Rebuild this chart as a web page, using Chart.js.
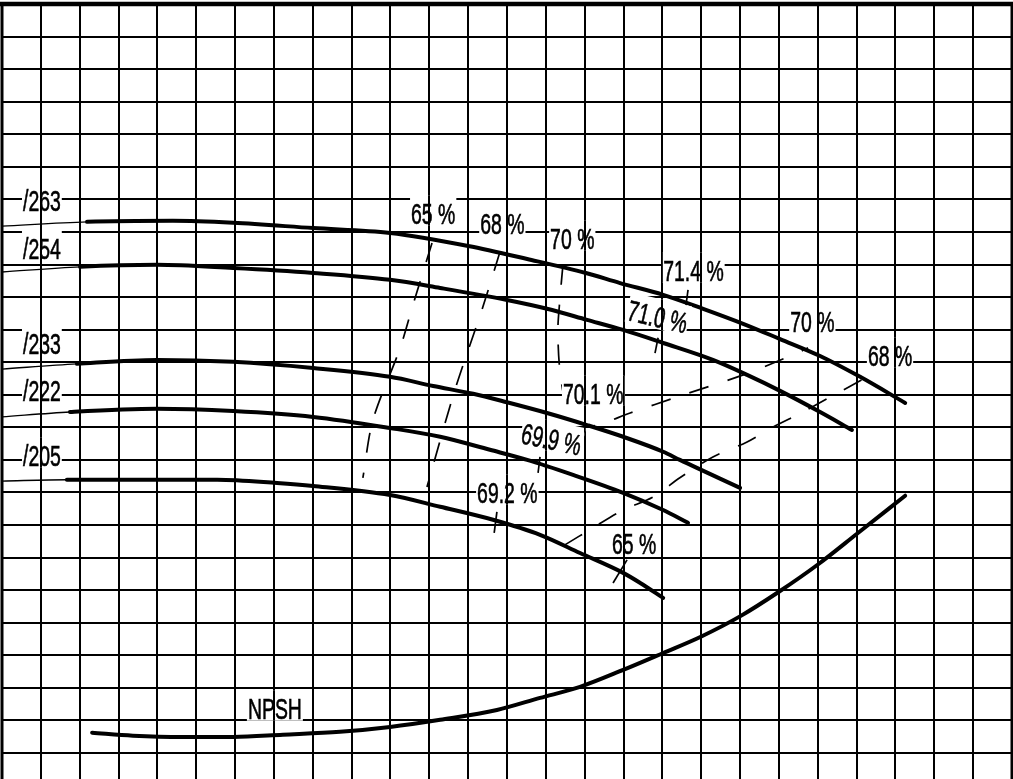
<!DOCTYPE html>
<html>
<head>
<meta charset="utf-8">
<script src="https://cdn.jsdelivr.net/npm/chart.js@4"></script>
<style>
html, body { margin: 0; padding: 0; background: #fff; }
canvas { display: block; }
</style>
</head>
<body>
<canvas id="mycanvas" width="1013" height="779"></canvas>
<script>
// all values in grid squares (x = flow, y = head)

// impeller curves [x, y]
var imp263 = [[0,16.18],[2.19,16.31],[4.40,16.34],[5.95,16.28],[8.01,16.12],[9.99,15.97],[12.00,15.57],[13.52,15.17],[15.03,14.74],[15.91,14.43],[17.02,14.07],[18.05,13.64],[19.08,13.18],[20.03,12.71],[21.06,12.19],[22.09,11.55],[23.25,10.75]];
var imp254 = [[0,14.77],[2.01,14.93],[3.99,14.99],[5.95,14.89],[8.01,14.74],[9.99,14.53],[11.28,14.28],[13.00,13.91],[14.03,13.64],[15.06,13.30],[15.99,12.99],[17.02,12.59],[18.30,12.07],[19.18,11.61],[20.03,11.12],[21.06,10.47],[21.88,9.92]];
var imp233 = [[0,11.79],[1.93,11.95],[3.99,12.07],[5.95,12.01],[8.01,11.82],[9.99,11.55],[11.10,11.27],[12.13,11.03],[13.00,10.77],[14.03,10.44],[15.06,10.07],[15.99,9.71],[17.02,9.25],[17.45,9.00],[19.00,8.14]];
var imp222 = [[0,10.32],[1.75,10.47],[3.99,10.57],[5.95,10.50],[8.01,10.32],[9.99,9.98],[11.28,9.71],[12.56,9.31],[13.52,9.00],[14.70,8.54],[15.99,7.99],[17.02,7.46],[17.66,7.07]];
var imp205 = [[0,8.35],[1.67,8.39],[3.99,8.39],[5.54,8.39],[7.08,8.29],[8.01,8.20],[9.99,7.92],[11.28,7.56],[12.64,7.16],[13.85,6.70],[14.88,6.14],[15.99,5.53],[16.43,5.22],[17.02,4.76]];
var npsh = [[2.32,0.62],[3.37,0.53],[4.66,0.49],[5.95,0.49],[7.23,0.56],[8.70,0.65],[9.99,0.80],[11.28,1.02],[12.74,1.32],[13.85,1.69],[14.88,2.03],[15.99,2.55],[17.02,3.07],[17.99,3.57],[19.02,4.21],[20.00,4.95],[21.03,5.81],[22.01,6.73],[23.25,7.90]];

// efficiency lines (dashed)
var eff65a = [[11.07,15.66],[10.58,13.76],[10.25,12.44],[9.55,10.23],[9.29,8.45]];
var eff68a = [[12.82,15.39],[12.38,13.70],[11.66,11.15],[10.94,8.17]];
var eff70 = [[14.44,14.99],[14.36,13.91],[14.31,12.99],[14.36,11.76],[14.52,10.69],[14.75,10.23],[15.19,10.04],[16.17,10.44],[17.45,10.96],[19.08,11.61],[20.47,12.28],[20.75,12.44]];
var eff68b = [[14.49,6.39],[15.21,6.91],[15.99,7.46],[16.76,7.86],[17.45,8.45],[18.30,9.09],[19.18,9.55],[19.85,10.01],[20.62,10.47],[21.32,10.93],[22.14,11.46]];

// short marks on the curves
var eff65b = [[16.09,5.93],[15.73,5.22]];
var t714 = [[17.66,14.22],[17.58,13.51]];
var t710 = [[16.89,12.75],[16.81,12.28]];
var t699 = [[13.85,9.09],[13.80,8.60]];
var t692 = [[12.74,7.40],[12.67,6.76]];

// texts (left end of baseline, grid units) and tilt in degrees
var labelText = ['/263','/254','/233','/222','/205','NPSH','65 %','68 %','70 %','71.4 %','71.0 %','70.1 %','69.9 %','69.2 %','65 %','70 %','68 %'];
var labelX = [0.54,0.54,0.54,0.54,0.54,6.33,10.53,12.31,14.11,17.02,16.06,14.44,13.33,12.23,15.70,20.29,22.29];
var labelY = [16.64,15.17,12.25,10.81,8.82,1.05,16.25,15.94,15.48,14.50,13.30,10.72,9.52,7.68,6.11,12.93,11.89];
var labelRot = [0,0,0,0,0,0,0,0,0,0,13,0,12,0,0,0,0];

function pts(arr) {
	return arr.map(function(p){ return {x: p[0], y: p[1]}; });
}

function curve(arr) { // thin lead-in, then heavy line
	return {
		data: pts(arr), showLine: true, pointRadius: 0, borderColor: '#000',
		cubicInterpolationMode: 'monotone', borderWidth: 4, borderCapStyle: 'round',
		segment: { borderWidth: function(c){ return c.p0DataIndex === 0 ? 1.3 : 4; } }
	};
}
function dashed(arr) {
	return { data: pts(arr), showLine: true, pointRadius: 0, borderColor: '#000', borderWidth: 1.7, borderDash: [20, 20], tension: 0.3 };
}
function mark(arr) {
	return { data: pts(arr), showLine: true, pointRadius: 0, borderColor: '#000', borderWidth: 1.7 };
}

var SX = 0.67; // narrow lettering

var labelsPlugin = {
	id: 'sheetLabels',
	afterDatasetsDraw: function(chart) {
		var ctx = chart.ctx, xs = chart.scales.x, ys = chart.scales.y, area = chart.chartArea;
		ctx.save();
		ctx.font = '29px "Liberation Sans", Arial, sans-serif';
		for (var i = 0; i < labelText.length; i++) {
			var px = xs.getPixelForValue(labelX[i]);
			var py = ys.getPixelForValue(labelY[i]);
			var rot = labelRot[i] * Math.PI / 180;
			var w = ctx.measureText(labelText[i]).width * SX;
			// white box cuts the horizontal rules, vertical rules go through
			ctx.save();
			ctx.translate(px, py);
			ctx.rotate(rot);
			ctx.beginPath();
			ctx.rect(-1, -28, w + 2, 30);
			ctx.fillStyle = '#fff';
			ctx.fill();
			ctx.clip();
			ctx.setTransform(1, 0, 0, 1, 0, 0);
			ctx.strokeStyle = '#000';
			ctx.lineWidth = 2;
			xs.ticks.forEach(function(t) {
				var gx = Math.round(xs.getPixelForValue(t.value));
				ctx.beginPath();
				ctx.moveTo(gx, area.top);
				ctx.lineTo(gx, area.bottom);
				ctx.stroke();
			});
			ctx.restore();
			ctx.save();
			ctx.translate(px, py);
			ctx.rotate(rot);
			ctx.scale(SX, 1);
			ctx.fillStyle = '#000';
			ctx.strokeStyle = '#000';
			ctx.lineWidth = 0.6;
			ctx.textBaseline = 'alphabetic';
			ctx.fillText(labelText[i], 0, 0);
			ctx.strokeText(labelText[i], 0, 0);
			ctx.restore();
		}
		ctx.restore();
	},
	afterDraw: function(chart) { // heavy frame, open at the bottom
		var ctx = chart.ctx, a = chart.chartArea;
		ctx.save();
		ctx.strokeStyle = '#000';
		ctx.lineWidth = 3;
		ctx.beginPath(); ctx.moveTo(a.left, a.top); ctx.lineTo(a.left, a.bottom); ctx.stroke();
		ctx.beginPath(); ctx.moveTo(a.right, a.top); ctx.lineTo(a.right, a.bottom); ctx.stroke();
		ctx.lineWidth = 4.5;
		ctx.beginPath(); ctx.moveTo(0, a.top); ctx.lineTo(a.right + 2, a.top); ctx.stroke();
		ctx.restore();
	}
};

var chartdata = {
	datasets: [
		dashed(eff65a), dashed(eff68a), dashed(eff70), dashed(eff68b),
		mark(eff65b), mark(t714), mark(t710), mark(t699), mark(t692),
		curve(imp263), curve(imp254), curve(imp233), curve(imp222), curve(imp205),
		{ data: pts(npsh), showLine: true, pointRadius: 0, borderColor: '#000', borderWidth: 4, borderCapStyle: 'round', cubicInterpolationMode: 'monotone' }
	]
};

var ctx = document.getElementById('mycanvas');
var graph = new Chart(ctx, {
	type: 'scatter',
	data: chartdata,
	plugins: [labelsPlugin],
	options: {
		responsive: false,
		animation: false,
		devicePixelRatio: 1,
		layout: { padding: { left: 2, right: 1, top: 4, bottom: 0 } },
		plugins: { legend: { display: false }, tooltip: { enabled: false } },
		scales: {
			x: {
				type: 'linear', min: 0, max: 26,
				ticks: { display: false, stepSize: 1 },
				grid: { color: '#000', lineWidth: 2, drawTicks: false },
				border: { display: false }
			},
			y: {
				type: 'linear', min: -0.8, max: 23,
				ticks: { display: false, stepSize: 1 },
				grid: {
					color: function(c) { return (c.tick && Number.isInteger(c.tick.value)) ? '#000' : 'rgba(0,0,0,0)'; },
					lineWidth: 2, drawTicks: false
				},
				border: { display: false }
			}
		}
	}
});
</script>
</body>
</html>
